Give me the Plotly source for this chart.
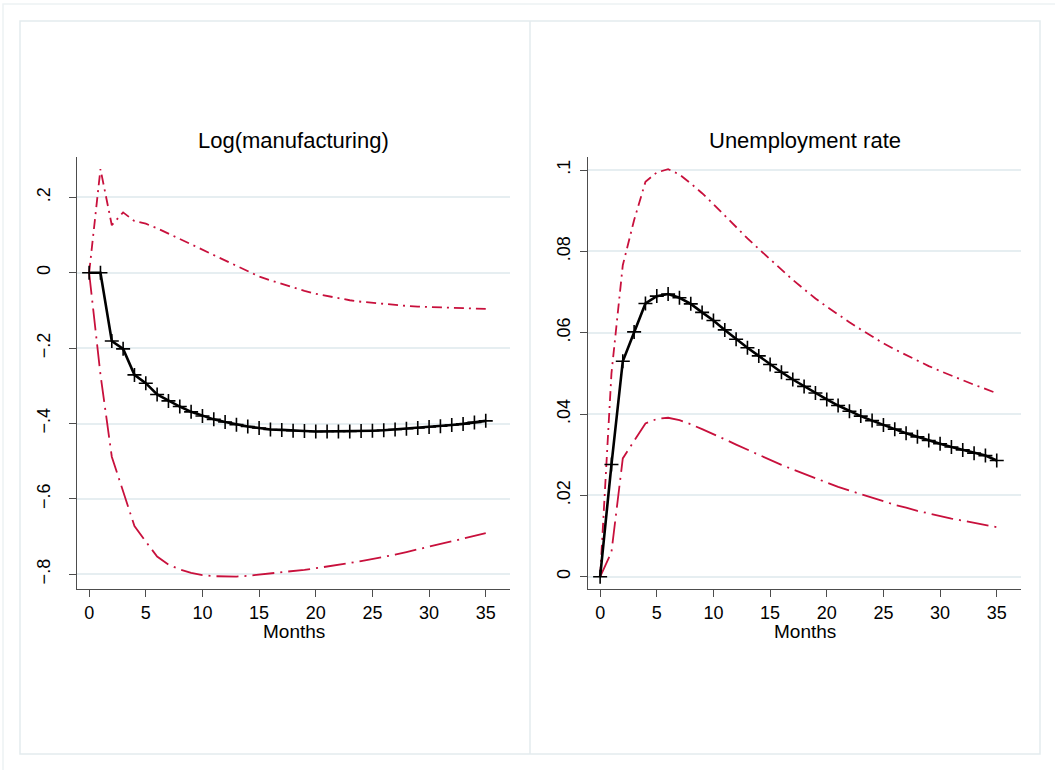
import plotly.graph_objects as go

months = list(range(36))

# Log(manufacturing)
manu_irf = [0.0, 0.0, -0.181, -0.202, -0.271, -0.293, -0.323, -0.340, -0.355, -0.369,
            -0.380, -0.389, -0.396, -0.403, -0.408, -0.412, -0.416, -0.417, -0.419, -0.420,
            -0.421, -0.421, -0.421, -0.421, -0.420, -0.419, -0.418, -0.416, -0.414, -0.412,
            -0.409, -0.407, -0.404, -0.401, -0.397, -0.393]
manu_upper = [0.0, 0.275, 0.126, 0.160, 0.137, 0.130, 0.118, 0.104, 0.090, 0.075,
              0.060, 0.046, 0.032, 0.019, 0.006, -0.010, -0.020, -0.030, -0.040, -0.048,
              -0.056, -0.062, -0.068, -0.073, -0.077, -0.080, -0.083, -0.086, -0.088, -0.090,
              -0.091, -0.093, -0.094, -0.095, -0.096, -0.096]
manu_lower = [0.0, -0.270, -0.488, -0.580, -0.672, -0.713, -0.753, -0.774, -0.787, -0.796,
              -0.802, -0.805, -0.806, -0.806, -0.804, -0.801, -0.798, -0.795, -0.791, -0.788,
              -0.784, -0.780, -0.775, -0.770, -0.765, -0.760, -0.754, -0.748, -0.741, -0.734,
              -0.727, -0.720, -0.713, -0.706, -0.698, -0.691]

# Unemployment rate
unemp_irf = [0.0, 0.0276, 0.0530, 0.0602, 0.0672, 0.0690, 0.0695, 0.0686, 0.0671, 0.0650,
             0.0630, 0.0607, 0.0584, 0.0563, 0.0543, 0.0522, 0.0503, 0.0485, 0.0468, 0.0452,
             0.0436, 0.0421, 0.0407, 0.0395, 0.0384, 0.0373, 0.0363, 0.0353, 0.0344, 0.0335,
             0.0327, 0.0319, 0.0312, 0.0304, 0.0298, 0.0286]
unemp_upper = [0.0, 0.0500, 0.0766, 0.0877, 0.0971, 0.0994, 0.1002, 0.0989, 0.0967, 0.0943,
               0.0916, 0.0888, 0.0859, 0.0832, 0.0806, 0.0780, 0.0754, 0.0730, 0.0707, 0.0684,
               0.0664, 0.0644, 0.0626, 0.0608, 0.0590, 0.0574, 0.0559, 0.0545, 0.0531, 0.0518,
               0.0506, 0.0494, 0.0483, 0.0472, 0.0462, 0.0451]
unemp_lower = [0.0, 0.0061, 0.0291, 0.0334, 0.0377, 0.0388, 0.0391, 0.0385, 0.0375, 0.0363,
               0.0351, 0.0338, 0.0325, 0.0312, 0.0299, 0.0287, 0.0275, 0.0264, 0.0253, 0.0242,
               0.0231, 0.0221, 0.0212, 0.0203, 0.0194, 0.0185, 0.0177, 0.0170, 0.0162, 0.0156,
               0.0149, 0.0143, 0.0138, 0.0133, 0.0128, 0.0122]

titles = ["Log(manufacturing)", "Unemployment rate"]
x_title = "Months"
x_ticks = [0, 5, 10, 15, 20, 25, 30, 35]
left_yticks = [-0.8, -0.6, -0.4, -0.2, 0, 0.2]
left_yticklabels = ["\u2212.8", "\u2212.6", "\u2212.4", "\u2212.2", "0", ".2"]
right_yticks = [0, 0.02, 0.04, 0.06, 0.08, 0.1]
right_yticklabels = ["0", ".02", ".04", ".06", ".08", ".1"]

W, H = 1055, 770
RED = "#C8103C"
FONT = "Liberation Sans, Arial, Helvetica, sans-serif"
GRID = "#E6EEF1"
AXC = "#4d4d4d"


def px(x):
    return x / W


def py(y):
    return 1 - y / H


fig = go.Figure()

panels = [
    ("x", "y", manu_irf, manu_upper, manu_lower),
    ("x2", "y2", unemp_irf, unemp_upper, unemp_lower),
]
for xa, ya, irf, up, lo in panels:
    fig.add_trace(go.Scatter(x=months, y=up, xaxis=xa, yaxis=ya, mode="lines",
                             line=dict(color=RED, width=1.8, dash="10px,5px,2px,5px"),
                             showlegend=False, hoverinfo="skip"))
    fig.add_trace(go.Scatter(x=months, y=lo, xaxis=xa, yaxis=ya, mode="lines",
                             line=dict(color=RED, width=1.8, dash="22px,6px,2px,6px"),
                             showlegend=False, hoverinfo="skip"))
    fig.add_trace(go.Scatter(x=months, y=irf, xaxis=xa, yaxis=ya, mode="lines+markers",
                             line=dict(color="black", width=2.6),
                             marker=dict(symbol="cross-thin", size=10,
                                         line=dict(color="black", width=1.6)),
                             showlegend=False, hoverinfo="skip"))

xrange_ = [-1.07, 37.14]
ydom = [py(589), py(157)]

common_x = dict(range=xrange_, tickmode="array", tickvals=x_ticks, showgrid=False,
                zeroline=False, showline=True, linecolor=AXC, linewidth=1.2,
                ticks="outside", ticklen=7, tickwidth=1.2, tickcolor=AXC,
                ticklabelstandoff=0,
                tickfont=dict(family=FONT, size=18, color="black"))
common_y = dict(tickmode="array", showgrid=True, gridcolor=GRID, gridwidth=1.5,
                zeroline=False, showline=True, linecolor=AXC, linewidth=1.2,
                ticks="outside", ticklen=7, tickwidth=1.2, tickcolor=AXC,
                tickangle=-90,
                tickfont=dict(family=FONT, size=18, color="black"))

fig.update_layout(
    width=W, height=H,
    margin=dict(l=0, r=0, t=0, b=0),
    paper_bgcolor="white", plot_bgcolor="white",
    xaxis=dict(domain=[px(77), px(510)], anchor="y", **common_x),
    xaxis2=dict(domain=[px(588), px(1021)], anchor="y2", **common_x),
    yaxis=dict(domain=ydom, anchor="x", range=[-0.839, 0.307],
               tickvals=left_yticks, ticktext=left_yticklabels,
               ticklabelstandoff=12, **common_y),
    yaxis2=dict(domain=ydom, anchor="x2", range=[-0.003, 0.1032],
                tickvals=right_yticks, ticktext=right_yticklabels,
                ticklabelstandoff=3, **common_y),
)

# titles and axis titles
centers = [(77 + 510) / 2, (588 + 1021) / 2]
for cx, t in zip(centers, titles):
    fig.add_annotation(x=px(cx), y=py(140), xref="paper", yref="paper", text=t,
                       showarrow=False, xanchor="center", yanchor="middle",
                       font=dict(family=FONT, size=22, color="black"))
    fig.add_annotation(x=px(cx), y=py(631), xref="paper", yref="paper", text=x_title,
                       showarrow=False, xanchor="center", yanchor="middle",
                       font=dict(family=FONT, size=19, color="black"))

# frames (graph combine boxes)
FRAME = "#E3EBEE"
fig.add_shape(type="rect", xref="paper", yref="paper", x0=px(3), x1=px(1060), y0=py(775), y1=py(4),
              line=dict(color="#EDF2F4", width=1.5), fillcolor="rgba(0,0,0,0)", layer="below")
fig.add_shape(type="rect", xref="paper", yref="paper", x0=px(20), x1=px(1040), y0=py(754), y1=py(21),
              line=dict(color=FRAME, width=1.5), fillcolor="rgba(0,0,0,0)", layer="below")
fig.add_shape(type="line", xref="paper", yref="paper", x0=px(530), x1=px(530), y0=py(754), y1=py(21),
              line=dict(color=FRAME, width=1.5), layer="below")

fig.write_html("out.html", config={"displayModeBar": False},
               post_script="document.body.style.margin='0';")
